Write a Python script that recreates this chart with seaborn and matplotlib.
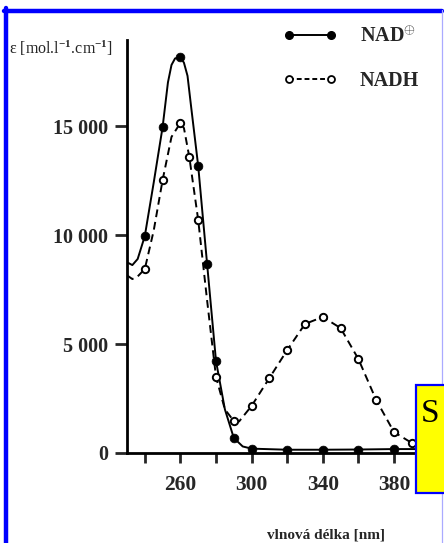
import numpy as np
import pandas as pd
import matplotlib
matplotlib.use("Agg")
import matplotlib.pyplot as plt
import seaborn as sns
from matplotlib.lines import Line2D
from matplotlib.patches import Rectangle

# ---- data ----
# NAD+ traced curve (line) and measured points (markers)
nad_curve_x = [230, 233, 236, 240, 245, 250, 253, 255, 257, 260, 262, 264, 266, 270, 275, 280, 285, 290, 295, 300, 320, 340, 360, 380, 395]
nad_curve_y = [8750, 8620, 8900, 9950, 12400, 14950, 17000, 17800, 18100, 18165, 17900, 17300, 15900, 13165, 8670, 4220, 2000, 690, 300, 200, 150, 150, 160, 180, 180]
nad_pts_x = [240, 250, 260, 270, 275, 280, 290, 300, 320, 340, 360, 380]
nad_pts_y = [9950, 14950, 18165, 13165, 8670, 4220, 690, 200, 150, 150, 160, 180]

# NADH traced curve (line) and measured points (markers)
nadh_curve_x = [230, 233, 236, 240, 245, 250, 255, 260, 262, 265, 270, 275, 280, 285, 290, 293, 300, 310, 320, 330, 340, 350, 360, 370, 380, 390, 395]
nadh_curve_y = [8150, 7980, 8100, 8440, 10200, 12520, 14500, 15140, 14900, 13580, 10690, 7000, 3490, 2000, 1470, 1450, 2160, 3440, 4720, 5920, 6240, 5730, 4310, 2430, 960, 460, 380]
nadh_pts_x = [240, 250, 260, 265, 270, 280, 290, 300, 310, 320, 330, 340, 350, 360, 370, 380, 390]
nadh_pts_y = [8440, 12520, 15140, 13580, 10690, 3490, 1470, 2160, 3440, 4720, 5920, 6240, 5730, 4310, 2430, 960, 460]

series_labels = ["NAD$^{\\oplus}$", "NADH"]
y_ticks = [0, 5000, 10000, 15000]
y_ticklabels = ["0", "5 000", "10 000", "15 000"]
x_ticks = [240, 260, 280, 300, 320, 340, 360, 380]
x_ticklabels = ["", "260", "", "300", "", "340", "", "380"]
y_label = "ε [mol.l$^{\\mathbf{-1}}$.cm$^{\\mathbf{-1}}$]"
x_label = "vlnová délka [nm]"

# ---- style ----
sns.set_theme(style="white")
plt.rcParams["font.family"] = ["Liberation Serif", "DejaVu Serif"]
plt.rcParams["mathtext.fontset"] = "custom"
plt.rcParams["mathtext.rm"] = "Liberation Serif"
plt.rcParams["mathtext.it"] = "Liberation Serif:italic"
plt.rcParams["mathtext.bf"] = "Liberation Serif:bold"

W, H = 444, 543
fig = plt.figure(figsize=(W / 100, H / 100), dpi=100)
fig.patch.set_facecolor("white")

ax = fig.add_axes([127 / W, 90 / H, 302.6 / W, 413 / H])
ax.set_facecolor("none")

nad_curve = pd.DataFrame({"x": nad_curve_x, "y": nad_curve_y})
nadh_curve = pd.DataFrame({"x": nadh_curve_x, "y": nadh_curve_y})
nad_pts = pd.DataFrame({"x": nad_pts_x, "y": nad_pts_y})
nadh_pts = pd.DataFrame({"x": nadh_pts_x, "y": nadh_pts_y})

sns.lineplot(data=nad_curve, x="x", y="y", ax=ax, color="black", lw=1.4, sort=False, zorder=3)
sns.lineplot(data=nadh_curve, x="x", y="y", ax=ax, color="black", lw=1.4, sort=False, zorder=3)
ax.lines[-1].set_dashes([4, 2.5])
sns.scatterplot(data=nad_pts, x="x", y="y", ax=ax, color="black", s=40, edgecolor="black", linewidth=0.5, zorder=5)
sns.scatterplot(data=nadh_pts, x="x", y="y", ax=ax, color="white", s=28, edgecolor="black", linewidth=1.4, zorder=5)

ax.set_xlim(230, 400)
ax.set_ylim(0, 18945)
sns.despine(ax=ax)
for s in ["left", "bottom"]:
    ax.spines[s].set_linewidth(2.0)
    ax.spines[s].set_color("black")
ax.spines["bottom"].set_zorder(2)

ax.set_yticks(y_ticks)
ax.set_yticklabels(y_ticklabels)
ax.set_xticks(x_ticks)
ax.set_xticklabels(x_ticklabels)
ax.tick_params(axis="y", direction="out", length=8.5, width=2.0, pad=5, labelsize=14.5, left=True)
ax.tick_params(axis="x", direction="out", length=7.5, width=2.0, pad=8, labelsize=15.5, bottom=True)
for t in ax.get_xticklabels() + ax.get_yticklabels():
    t.set_fontweight("bold")
ax.set_xlabel("")
ax.set_ylabel("")

# legend
h1 = Line2D([], [], color="black", lw=1.4, marker="o", ms=5.5, mfc="black", mec="black")
h2 = Line2D([], [], color="black", lw=1.4, ls=(0, (2.5, 1.5)), marker="o", ms=5, mfc="white", mec="black", mew=1.3)
ax.legend([h1, h2], series_labels, loc="upper left", bbox_to_anchor=(283 / W, 1 - 27 / H),
          bbox_transform=fig.transFigure, frameon=False, numpoints=2, handlelength=2.7,
          handletextpad=1.1, labelspacing=1.2, borderpad=0, borderaxespad=0,
          prop={"family": "Liberation Serif", "weight": "bold", "size": 14.5})

# axis labels as figure text
fig.text(9 / W, 1 - 48 / H, y_label, ha="left", va="center", fontsize=11.5)
fig.text(326 / W, 1 - 535 / H, x_label, ha="center", va="center", fontsize=11, fontweight="bold")

# decorative frame
fig.add_artist(Line2D([5.5 / W, 5.5 / W], [0, 1 - 8 / H], color="#0000ff", lw=3.2, transform=fig.transFigure))
fig.add_artist(Line2D([4 / W, 442 / W], [1 - 10.5 / H, 1 - 10.5 / H], color="#0000ff", lw=3.2, transform=fig.transFigure))
fig.add_artist(Line2D([441.5 / W, 441.5 / W], [0, 1 - 10 / H], color="#aaaaff", lw=0.9, transform=fig.transFigure))

# yellow box with "S"
box = Rectangle((416 / W, 1 - 493 / H), 40 / W, 108 / H, transform=fig.transFigure,
                facecolor="#ffff00", edgecolor="#0000ff", lw=1.6, zorder=10)
fig.add_artist(box)
fig.text(421 / W, 1 - 414 / H, "S", ha="left", va="center", fontsize=24, color="black", zorder=11)

fig.savefig("out.png", dpi=100)
